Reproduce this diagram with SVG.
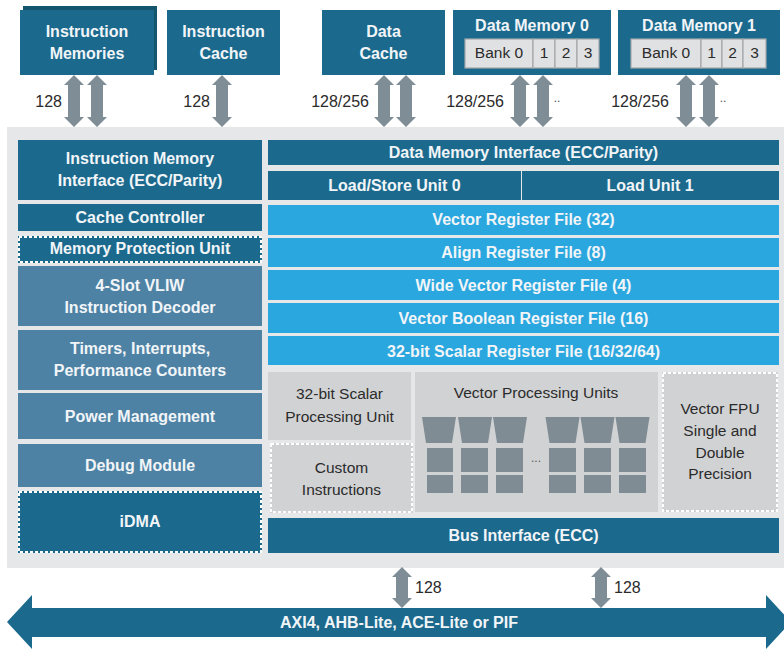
<svg xmlns="http://www.w3.org/2000/svg" width="784" height="649" viewBox="0 0 784 649">
<style>
.dk{fill:#1b6a8e}
.st{fill:#4d82a4}
.lb{fill:#2aa7df}
.gr{fill:#d1d2d4}
.bk{fill:#e0e1e2;stroke:#a4a7aa;stroke-width:1.2}
.vp{fill:#7f8c93}
.ar{fill:#7f8e96}
.dash{fill:none;stroke:#ffffff;stroke-width:2;stroke-dasharray:3 2}
.wt{font-family:"Liberation Sans",Arial,sans-serif;font-weight:bold;font-size:16px;fill:#f2f5f8;text-anchor:middle}
.nt{font-family:"Liberation Sans",Arial,sans-serif;font-size:15.5px;fill:#2b2b2b;text-anchor:middle}
.lab{font-family:"Liberation Sans",Arial,sans-serif;font-size:16px;fill:#2b2b2b;text-anchor:end}
.dots{font-family:"Liberation Sans",Arial,sans-serif;font-size:12px;fill:#555;text-anchor:middle}
</style>
<defs>
<path id="arTop" d="M0,75 L10,85 L6,85 L6,117 L10,117 L0,127 L-10,117 L-6,117 L-6,85 L-10,85 Z"/>
<path id="arBot" d="M0,567 L10,577 L6,577 L6,598 L10,598 L0,608 L-10,598 L-6,598 L-6,577 L-10,577 Z"/>
</defs>

<!-- main panel -->
<rect x="7" y="127" width="777" height="441" fill="#e6e7e8"/>

<!-- top nodes -->
<g id="instruction-memories">
<rect x="23" y="6" width="134" height="64" fill="#15566f"/>
<rect x="20" y="10" width="134" height="65" class="dk"/>
<text x="87" y="37" class="wt">Instruction</text>
<text x="87" y="59" class="wt">Memories</text>
</g>
<g id="instruction-cache">
<rect x="167" y="10" width="113" height="65" class="dk"/>
<text x="223.5" y="37" class="wt">Instruction</text>
<text x="223.5" y="59" class="wt">Cache</text>
</g>
<g id="data-cache">
<rect x="322" y="10" width="123" height="65" class="dk"/>
<text x="383.5" y="37" class="wt">Data</text>
<text x="383.5" y="59" class="wt">Cache</text>
</g>
<g id="data-memory-0">
<rect x="453" y="10" width="158" height="65" class="dk"/>
<text x="532" y="31" class="wt">Data Memory 0</text>
<rect x="465" y="39" width="68" height="29" class="bk"/>
<rect x="533" y="39" width="22" height="29" class="bk"/>
<rect x="555" y="39" width="22" height="29" class="bk"/>
<rect x="577" y="39" width="22" height="29" class="bk"/>
<text x="499" y="58" class="nt">Bank 0</text>
<text x="544" y="58" class="nt">1</text>
<text x="566" y="58" class="nt">2</text>
<text x="588" y="58" class="nt">3</text>
</g>
<g id="data-memory-1">
<rect x="618" y="10" width="162" height="65" class="dk"/>
<text x="699" y="31" class="wt">Data Memory 1</text>
<rect x="631" y="39" width="70" height="29" class="bk"/>
<rect x="701" y="39" width="21" height="29" class="bk"/>
<rect x="722" y="39" width="21" height="29" class="bk"/>
<rect x="743" y="39" width="23" height="29" class="bk"/>
<text x="666" y="58" class="nt">Bank 0</text>
<text x="711.5" y="58" class="nt">1</text>
<text x="732.5" y="58" class="nt">2</text>
<text x="754.5" y="58" class="nt">3</text>
</g>

<!-- left column -->
<g id="imem-interface">
<rect x="18" y="140" width="244" height="60" class="dk"/>
<text x="140" y="164" class="wt">Instruction Memory</text>
<text x="140" y="186" class="wt">Interface (ECC/Parity)</text>
</g>
<g id="cache-controller">
<rect x="18" y="204" width="244" height="27" class="dk"/>
<text x="140" y="223" class="wt">Cache Controller</text>
</g>
<g id="mpu">
<rect x="18" y="236" width="244" height="27" class="dk"/>
<rect x="19" y="237" width="242" height="25" class="dash"/>
<text x="140" y="254" class="wt">Memory Protection Unit</text>
</g>
<g id="vliw-decoder">
<rect x="18" y="266" width="244" height="60" class="st"/>
<text x="140" y="291" class="wt">4-Slot VLIW</text>
<text x="140" y="313" class="wt">Instruction Decoder</text>
</g>
<g id="timers">
<rect x="18" y="330" width="244" height="60" class="st"/>
<text x="140" y="354" class="wt">Timers, Interrupts,</text>
<text x="140" y="376" class="wt">Performance Counters</text>
</g>
<g id="power-management">
<rect x="18" y="393" width="244" height="46" class="st"/>
<text x="140" y="422" class="wt">Power Management</text>
</g>
<g id="debug-module">
<rect x="18" y="444" width="244" height="43" class="st"/>
<text x="140" y="471" class="wt">Debug Module</text>
</g>
<g id="idma">
<rect x="18" y="491" width="244" height="62" class="dk"/>
<rect x="19" y="492" width="242" height="60" class="dash"/>
<text x="140" y="527" class="wt">iDMA</text>
</g>

<!-- right column -->
<g id="dmem-interface">
<rect x="268" y="140" width="511" height="25" class="dk"/>
<text x="523.5" y="158" class="wt">Data Memory Interface (ECC/Parity)</text>
</g>
<g id="load-store-0">
<rect x="268" y="171" width="253" height="29" class="dk"/>
<text x="394.5" y="191" class="wt">Load/Store Unit 0</text>
</g>
<g id="load-unit-1">
<rect x="522" y="171" width="257" height="29" class="dk"/>
<text x="650" y="191" class="wt">Load Unit 1</text>
</g>
<g id="vector-register-file">
<rect x="268" y="205" width="511" height="30" class="lb"/>
<text x="523.5" y="225" class="wt">Vector Register File (32)</text>
</g>
<g id="align-register-file">
<rect x="268" y="238" width="511" height="29" class="lb"/>
<text x="523.5" y="258" class="wt">Align Register File (8)</text>
</g>
<g id="wide-vector-register-file">
<rect x="268" y="270" width="511" height="30" class="lb"/>
<text x="523.5" y="291" class="wt">Wide Vector Register File (4)</text>
</g>
<g id="vector-boolean-register-file">
<rect x="268" y="303" width="511" height="30" class="lb"/>
<text x="523.5" y="324" class="wt">Vector Boolean Register File (16)</text>
</g>
<g id="scalar-register-file">
<rect x="268" y="336" width="511" height="29" class="lb"/>
<text x="523.5" y="357" class="wt">32-bit Scalar Register File (16/32/64)</text>
</g>

<g id="scalar-processing-unit">
<rect x="268" y="372" width="143" height="68" class="gr"/>
<text x="339.5" y="399" class="nt">32-bit Scalar</text>
<text x="339.5" y="422" class="nt">Processing Unit</text>
</g>
<g id="custom-instructions">
<rect x="270" y="443" width="143" height="70" class="gr"/>
<rect x="271" y="444" width="141" height="68" class="dash"/>
<text x="341.5" y="473" class="nt">Custom</text>
<text x="341.5" y="495" class="nt">Instructions</text>
</g>
<g id="vector-processing-units">
<rect x="415" y="372" width="243" height="140" class="gr"/>
<text x="536" y="398" class="nt">Vector Processing Units</text>
<g class="vp">
<path d="M422,417 L456,417 L452,443 L426,443 Z"/>
<path d="M458,417 L492,417 L488,443 L462,443 Z"/>
<path d="M493,417 L527,417 L523,443 L497,443 Z"/>
<path d="M545.5,417 L579.5,417 L575.5,443 L549.5,443 Z"/>
<path d="M580.5,417 L614.5,417 L610.5,443 L584.5,443 Z"/>
<path d="M615.5,417 L649.5,417 L645.5,443 L619.5,443 Z"/>
<rect x="427" y="448" width="26" height="24"/>
<rect x="461" y="448" width="27" height="24"/>
<rect x="496" y="448" width="27" height="24"/>
<rect x="549" y="448" width="27" height="24"/>
<rect x="584" y="448" width="27" height="24"/>
<rect x="619" y="448" width="27" height="24"/>
<rect x="427" y="475" width="26" height="18"/>
<rect x="461" y="475" width="27" height="18"/>
<rect x="496" y="475" width="27" height="18"/>
<rect x="549" y="475" width="27" height="18"/>
<rect x="584" y="475" width="27" height="18"/>
<rect x="619" y="475" width="27" height="18"/>
</g>
<text x="536" y="462" class="dots">...</text>
</g>
<g id="vector-fpu">
<rect x="662" y="372" width="116" height="140" class="gr"/>
<rect x="663" y="373" width="114" height="138" class="dash"/>
<text x="720" y="414" class="nt">Vector FPU</text>
<text x="720" y="436" class="nt">Single and</text>
<text x="720" y="458" class="nt">Double</text>
<text x="720" y="479" class="nt">Precision</text>
</g>
<g id="bus-interface">
<rect x="268" y="518" width="511" height="35" class="dk"/>
<text x="523.5" y="541" class="wt">Bus Interface (ECC)</text>
</g>

<!-- system bus -->
<g id="system-bus">
<path d="M7,622 L32,595 L32,608 L766,608 L766,595 L791,622 L766,649 L766,637 L32,637 L32,649 Z" class="dk"/>
<text x="399" y="628" class="wt">AXI4, AHB-Lite, ACE-Lite or PIF</text>
</g>

<!-- connectors -->
<g id="connectors" class="ar">
<use href="#arTop" transform="translate(74,0)"/>
<use href="#arTop" transform="translate(97,0)"/>
<use href="#arTop" transform="translate(222,0)"/>
<use href="#arTop" transform="translate(384,0)"/>
<use href="#arTop" transform="translate(406,0)"/>
<use href="#arTop" transform="translate(520,0)"/>
<use href="#arTop" transform="translate(543,0)"/>
<use href="#arTop" transform="translate(686,0)"/>
<use href="#arTop" transform="translate(709,0)"/>
<use href="#arBot" transform="translate(402,0)"/>
<use href="#arBot" transform="translate(601,0)"/>
</g>
<g id="connector-labels">
<text x="62" y="107" class="lab">128</text>
<text x="210" y="107" class="lab">128</text>
<text x="369" y="107" class="lab">128/256</text>
<text x="504" y="107" class="lab">128/256</text>
<text x="669" y="107" class="lab">128/256</text>
<text x="557" y="102" class="dots">..</text>
<text x="723" y="102" class="dots">..</text>
<text x="415" y="593" class="lab" style="text-anchor:start">128</text>
<text x="614" y="593" class="lab" style="text-anchor:start">128</text>
</g>
</svg>
